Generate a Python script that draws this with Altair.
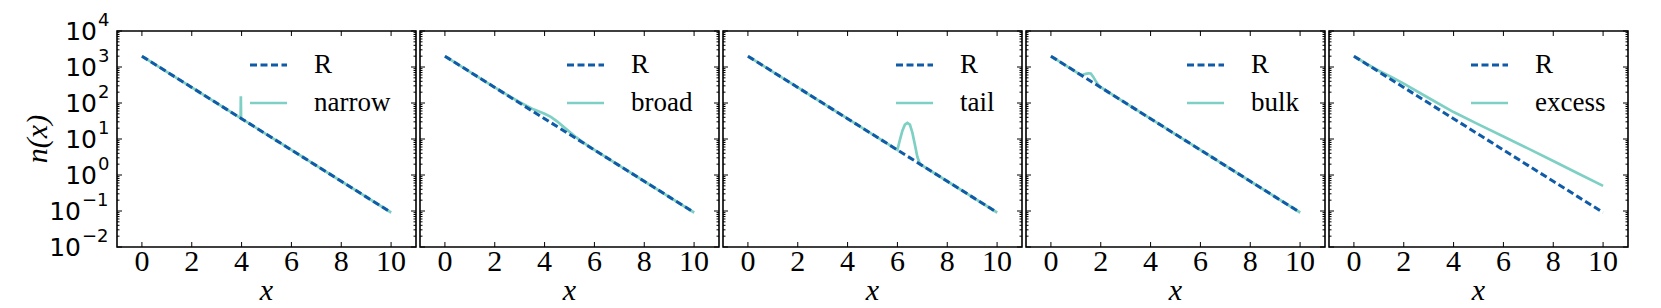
import altair as alt
import pandas as pd

# ---------------- data ----------------
R_x = [0, 1, 2, 3, 4, 5, 6, 7, 8, 9, 10]
R_y = [2000, 736, 271, 99.6, 36.6, 13.5, 4.96, 1.82, 0.671, 0.247, 0.0908]

narrow_x = [0, 1, 2, 3, 3.96, 3.97, 3.98, 4, 5, 6, 7, 8, 9, 10]
narrow_y = [2000, 736, 271, 99.6, 38.1, 155, 37.4, 36.6, 13.5, 4.96, 1.82, 0.671, 0.247, 0.0908]

broad_x = [0, 1, 2, 3, 3.5, 3.75, 4, 4.25, 4.5, 4.75, 5, 5.25, 5.5, 6, 7, 8, 9, 10]
broad_y = [2000, 736, 271, 105, 69.5, 59, 50.5, 41.3, 31, 22.1, 15.8, 11.4, 8.5, 4.96, 1.82, 0.671, 0.247, 0.0908]

tail_x = [0, 1, 2, 3, 4, 5, 6, 6.1, 6.2, 6.3, 6.4, 6.5, 6.6, 6.7, 6.8, 6.9, 7, 8, 9, 10]
tail_y = [2000, 736, 271, 99.6, 36.6, 13.5, 4.96, 9.5, 17, 25, 28, 25, 15, 7, 3.2, 2.05, 1.82, 0.671, 0.247, 0.0908]

bulk_x = [0, 1, 1.2, 1.3, 1.4, 1.5, 1.6, 1.7, 1.8, 1.9, 2, 3, 4, 5, 6, 7, 8, 9, 10]
bulk_y = [2000, 736, 602, 620, 645, 665, 660, 530, 405, 320, 275, 99.6, 36.6, 13.5, 4.96, 1.82, 0.671, 0.247, 0.0908]

excess_x = [0, 0.5, 1, 1.5, 2, 3, 4, 5, 6, 7, 8, 9, 10]
excess_y = [2000, 1230, 790, 530, 345, 138, 56, 25.5, 11.8, 5.4, 2.45, 1.1, 0.5]

panel_names = ["narrow", "broad", "tail", "bulk", "excess"]
panel_x = [narrow_x, broad_x, tail_x, bulk_x, excess_x]
panel_y = [narrow_y, broad_y, tail_y, bulk_y, excess_y]

x_ticks = [0, 2, 4, 6, 8, 10]
x_labels = ["0", "2", "4", "6", "8", "10"]
y_ticks = [0.01, 0.1, 1, 10, 100, 1000, 10000]
y_exps = ["\u22122", "\u22121", "0", "1", "2", "3", "4"]
y_minor = [m * d for d in [0.01, 0.1, 1, 10, 100, 1000] for m in range(2, 10)]
x_title = "x"
y_title = "n(x)"

# ---------------- style ----------------
W, H = 299, 216
BLUE = "#0f5ba7"
TEAL = "#7fd0c4"
SERIF = "Liberation Serif"
SANS = "DejaVu Sans"
legend_start = [133, 147, 173, 161, 142]
MAJ, MIN = 5, 2.5

xscale = alt.Scale(domain=[-1, 11], nice=False, zero=False)
yscale = alt.Scale(type="log", domain=[0.01, 10000], nice=False)


def panel(i):
    first = i == 0
    X = alt.X("x:Q", scale=xscale, axis=None)
    Y = alt.Y("y:Q", scale=yscale, axis=None)

    df = pd.DataFrame({"x": panel_x[i], "y": panel_y[i]})
    dr = pd.DataFrame({"x": R_x, "y": R_y})
    teal = alt.Chart(df).mark_line(color=TEAL, strokeWidth=2.7, clip=True).encode(x=X, y=Y)
    ref = alt.Chart(dr).mark_line(color=BLUE, strokeWidth=3, strokeDash=[7, 3.5],
                                  clip=True).encode(x=X, y=Y)

    dxt = pd.DataFrame({"x": x_ticks, "lab": x_labels})
    dyt = pd.DataFrame({"y": y_ticks})
    dym = pd.DataFrame({"y": y_minor})
    rule = dict(color="black", strokeWidth=1)
    ticks = [
        alt.Chart(dxt).mark_rule(**rule).encode(x=X, y=alt.value(0), y2=alt.value(MAJ)),
        alt.Chart(dxt).mark_rule(**rule).encode(x=X, y=alt.value(H), y2=alt.value(H - MAJ)),
        alt.Chart(dyt).mark_rule(**rule).encode(y=Y, x=alt.value(0), x2=alt.value(MAJ)),
        alt.Chart(dyt).mark_rule(**rule).encode(y=Y, x=alt.value(W), x2=alt.value(W - MAJ)),
        alt.Chart(dym).mark_rule(**rule).encode(y=Y, x=alt.value(0), x2=alt.value(MIN)),
        alt.Chart(dym).mark_rule(**rule).encode(y=Y, x=alt.value(W), x2=alt.value(W - MIN)),
    ]

    # x tick labels and x title
    one = pd.DataFrame({"t": ["R"], "u": [panel_names[i]], "xt": [x_title], "yt": [y_title]})
    xlab = [
        alt.Chart(dxt).mark_text(align="center", baseline="middle", font=SERIF,
                                 fontSize=30, color="black").encode(
            x=X, y=alt.value(H + 15), text="lab:N"),
        alt.Chart(one).mark_text(align="center", baseline="middle", font=SERIF,
                                 fontSize=30, fontStyle="italic", color="black").encode(
            x=alt.value(W / 2), y=alt.value(H + 44), text="xt:N"),
    ]

    legend = [
        alt.Chart(one).mark_rule(color=BLUE, strokeWidth=3, strokeDash=[7, 3.5]).encode(
            x=alt.value(legend_start[i]), x2=alt.value(legend_start[i] + 37), y=alt.value(34)),
        alt.Chart(one).mark_rule(color=TEAL, strokeWidth=2.7).encode(
            x=alt.value(legend_start[i]), x2=alt.value(legend_start[i] + 37), y=alt.value(72)),
        alt.Chart(one).mark_text(align="left", baseline="middle", font=SERIF, fontSize=27,
                                 color="black").encode(
            x=alt.value(legend_start[i] + 64), y=alt.value(34), text="t:N"),
        alt.Chart(one).mark_text(align="left", baseline="middle", font=SERIF, fontSize=27,
                                 color="black").encode(
            x=alt.value(legend_start[i] + 64), y=alt.value(72), text="u:N"),
    ]

    layers = [teal, ref] + ticks + xlab + legend

    if first:
        layers.append(alt.Chart(one).mark_text(align="center", baseline="middle", font=SERIF,
                                               fontSize=30, fontStyle="italic", angle=270,
                                               color="black").encode(
            x=alt.value(-79), y=alt.value(H / 2), text="yt:N"))
        dl = pd.DataFrame({"y": y_ticks, "e": y_exps, "neg": [v < 1 for v in y_ticks]})
        base = alt.Chart(dl)
        for neg, xb in [(False, -20), (True, -36)]:
            sub = base.transform_filter(alt.datum.neg if neg else ~alt.datum.neg)
            layers.append(sub.mark_text(align="right", baseline="middle", font=SANS,
                                        fontSize=25, color="black", dy=1).encode(
                y=Y, x=alt.value(xb), text=alt.value("10")))
            layers.append(sub.mark_text(align="left", baseline="middle", font=SANS,
                                        fontSize=18, color="black", dy=-10).encode(
                y=Y, x=alt.value(xb + 1), text="e:N"))

    return alt.layer(*layers).properties(width=W, height=H)


chart = alt.hconcat(*[panel(i) for i in range(5)], spacing=0).properties(
    padding={"left": 14, "top": 3, "right": 5, "bottom": 0}
).configure_view(stroke="black", strokeWidth=1.6)

chart.save("out.html", embed_options={"renderer": "svg", "actions": False})
